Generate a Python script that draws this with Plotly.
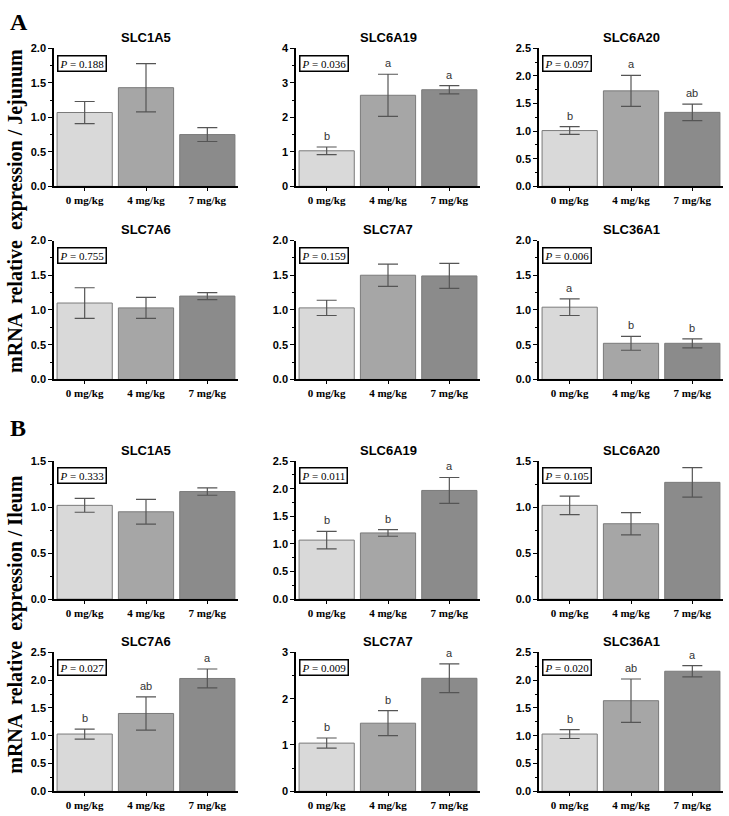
import plotly.graph_objects as go

doses = ["0 mg/kg", "4 mg/kg", "7 mg/kg"]
genes = ["SLC1A5", "SLC6A19", "SLC6A20", "SLC7A6", "SLC7A7", "SLC36A1"]

# Jejunum (panel A)
means_A = [[1.07, 1.43, 0.75], [1.03, 2.64, 2.80], [1.01, 1.73, 1.34],
           [1.10, 1.03, 1.20], [1.03, 1.50, 1.49], [1.04, 0.52, 0.52]]
err_A = [[0.16, 0.35, 0.10], [0.11, 0.61, 0.12], [0.07, 0.28, 0.15],
         [0.22, 0.15, 0.05], [0.11, 0.16, 0.18], [0.12, 0.10, 0.065]]
p_A = ["0.188", "0.036", "0.097", "0.755", "0.159", "0.006"]
letters_A = [None, ["b", "a", "a"], ["b", "a", "ab"], None, None, ["a", "b", "b"]]
ymax_A = [2.0, 4, 2.5, 2.0, 2.0, 2.0]
dtick_A = [0.5, 1, 0.5, 0.5, 0.5, 0.5]

# Ileum (panel B)
means_B = [[1.02, 0.95, 1.17], [1.07, 1.20, 1.97], [1.02, 0.82, 1.27],
           [1.03, 1.40, 2.03], [1.04, 1.47, 2.44], [1.03, 1.63, 2.16]]
err_B = [[0.075, 0.135, 0.04], [0.16, 0.06, 0.235], [0.10, 0.12, 0.16],
         [0.09, 0.30, 0.17], [0.11, 0.27, 0.31], [0.08, 0.39, 0.10]]
p_B = ["0.333", "0.011", "0.105", "0.027", "0.009", "0.020"]
letters_B = [None, ["b", "b", "a"], None, ["b", "ab", "a"], ["b", "b", "a"], ["b", "ab", "a"]]
ymax_B = [1.5, 2.5, 1.5, 2.5, 3, 2.5]
dtick_B = [0.5, 0.5, 0.5, 0.5, 1, 0.5]

bar_colors = ["#d9d9d9", "#a6a6a6", "#8b8b8b"]

W, H = 729, 816
col_px = [(54, 238), (296, 480), (539, 723)]
row_px = [(43, 183), (238, 379), (462, 602), (656, 797)]

panels = []
for k in range(6):
    panels.append((genes[k], means_A[k], err_A[k], p_A[k], letters_A[k], ymax_A[k], dtick_A[k]))
for k in range(6):
    panels.append((genes[k], means_B[k], err_B[k], p_B[k], letters_B[k], ymax_B[k], dtick_B[k]))

fig = go.Figure()
annotations = []
layout = {}
for i, (gene, means, errs, pval, letters, ymax, dtick) in enumerate(panels):
    r, c = i // 3, i % 3
    n = i + 1
    xa = "x" if n == 1 else f"x{n}"
    ya = "y" if n == 1 else f"y{n}"
    xk = "xaxis" if n == 1 else f"xaxis{n}"
    yk = "yaxis" if n == 1 else f"yaxis{n}"
    x0, x1 = col_px[c]
    t, b = row_px[r]
    fig.add_trace(go.Bar(
        x=doses, y=means, xaxis=xa, yaxis=ya,
        marker=dict(color=bar_colors, line=dict(color="#7a7a7a", width=1)),
        error_y=dict(type="data", array=errs, visible=True, color="#555555",
                     thickness=1.2, width=10),
        width=0.9, showlegend=False, hoverinfo="skip"))
    layout[xk] = dict(domain=[x0 / W, x1 / W], anchor=ya, range=[-0.5, 2.5],
                      showline=True, linecolor="black", linewidth=1.5,
                      ticks="outside", ticklen=3, tickcolor="black",
                      tickfont=dict(family="Liberation Serif", size=11, color="black", weight="bold"),
                      showgrid=False, zeroline=False, fixedrange=True)
    fmt = ".1f" if dtick < 1 else "d"
    layout[yk] = dict(domain=[1 - b / H, 1 - t / H], anchor=xa, range=[0, ymax],
                      dtick=dtick, tick0=0, tickformat=fmt,
                      showline=True, linecolor="black", linewidth=1.5,
                      ticks="outside", ticklen=4, tickcolor="black",
                      minor=dict(dtick=dtick / 2, ticks="outside", ticklen=2, tickcolor="black"),
                      tickfont=dict(family="Liberation Sans", size=11, color="black", weight="bold"),
                      showgrid=False, zeroline=False, fixedrange=True)
    annotations.append(dict(text=gene, xref=f"{xa} domain", yref=f"{ya} domain",
                            x=0.5, y=1, yshift=11, showarrow=False, yanchor="middle",
                            font=dict(family="Liberation Sans", size=13, color="black", weight="bold")))
    annotations.append(dict(text=f"<i>P</i> = {pval}", xref=f"{xa} domain", yref=f"{ya} domain",
                            x=0.015, y=0.955, xanchor="left", yanchor="top", showarrow=False,
                            bordercolor="black", borderwidth=1.5, borderpad=1, bgcolor="white",
                            font=dict(family="Liberation Serif", size=11, color="black")))
    if letters:
        for j, L in enumerate(letters):
            annotations.append(dict(text=L, x=doses[j], y=means[j] + errs[j], xref=xa, yref=ya,
                                    yanchor="bottom", yshift=3, showarrow=False,
                                    font=dict(family="Liberation Sans", size=11, color="#333333")))

annotations.append(dict(text="<b>A</b>", xref="paper", yref="paper", x=8 / W, y=1 - 16 / H,
                        xanchor="left", yanchor="middle", showarrow=False,
                        font=dict(family="Liberation Serif", size=24, color="black")))
annotations.append(dict(text="<b>B</b>", xref="paper", yref="paper", x=8 / W, y=1 - 428 / H,
                        xanchor="left", yanchor="middle", showarrow=False,
                        font=dict(family="Liberation Serif", size=24, color="black")))
annotations.append(dict(text="<b>mRNA  relative  expression / Jejunum</b>", xref="paper", yref="paper",
                        x=16 / W, y=1 - 208 / H, textangle=-90, showarrow=False,
                        xanchor="center", yanchor="middle",
                        font=dict(family="Liberation Serif", size=20, color="black")))
annotations.append(dict(text="<b>mRNA  relative  expression / Ileum</b>", xref="paper", yref="paper",
                        x=16 / W, y=1 - 628 / H, textangle=-90, showarrow=False,
                        xanchor="center", yanchor="middle",
                        font=dict(family="Liberation Serif", size=20, color="black")))

fig.update_layout(width=W, height=H, margin=dict(l=0, r=0, t=0, b=0),
                  paper_bgcolor="white", plot_bgcolor="white",
                  annotations=annotations, bargap=0.1, **layout)
fig.write_html("out.html", config={"displayModeBar": False},
               post_script="document.body.style.margin='0';document.body.style.overflow='hidden';")
